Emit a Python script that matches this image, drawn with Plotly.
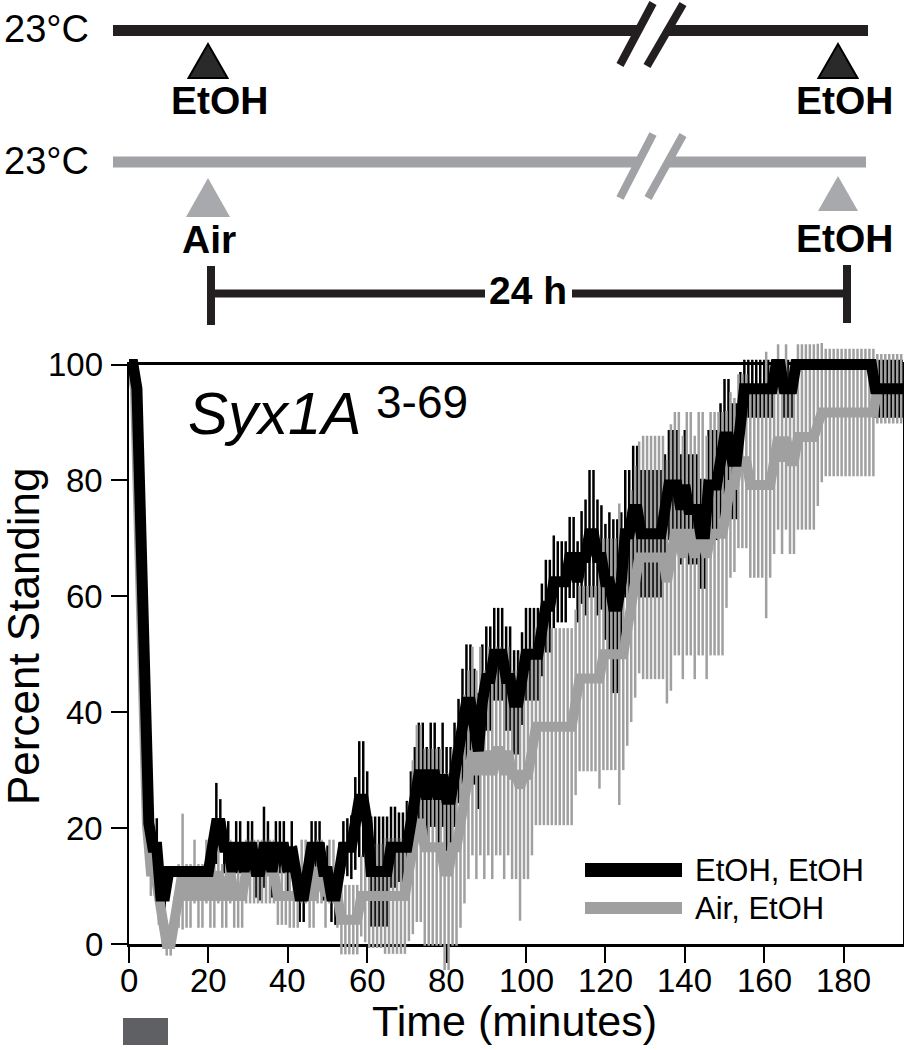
import plotly.graph_objects as go

# ---------------- data ----------------
minutes = list(range(196))          # sampling grid, 1 per minute, 0..195

x_ticks = [0, 20, 40, 60, 80, 100, 120, 140, 160, 180]
y_ticks = [0, 20, 40, 60, 80, 100]

# EtOH, EtOH  (black)
etoh_mean = [
    100, 100, 95.8, 75, 45.8, 20.8, 16.7, 16.7, 8.3, 8.3,
    12.5, 12.5, 12.5, 12.5, 12.5, 12.5, 12.5, 12.5, 12.5, 12.5,
    12.5, 16.7, 20.8, 20.8, 16.7, 16.7, 12.5, 16.7, 16.7, 12.5,
    16.7, 16.7, 12.5, 12.5, 16.7, 16.7, 12.5, 16.7, 16.7, 16.7,
    12.5, 16.7, 12.5, 8.3, 8.3, 12.5, 16.7, 16.7, 16.7, 12.5,
    12.5, 8.3, 8.3, 12.5, 16.7, 16.7, 16.7, 20.8, 25, 25,
    20.8, 12.5, 12.5, 12.5, 12.5, 12.5, 16.7, 16.7, 16.7, 16.7,
    16.7, 20.8, 25, 29.2, 29.2, 25, 29.2, 29.2, 25, 29.2,
    25, 25, 29.2, 33.3, 37.5, 41.7, 41.7, 37.5, 33.3, 41.7,
    45.8, 45.8, 50, 50, 50, 45.8, 45.8, 41.7, 41.7, 45.8,
    50, 50, 50, 50, 54.2, 58.3, 58.3, 62.5, 62.5, 62.5,
    62.5, 66.7, 66.7, 62.5, 66.7, 66.7, 70.8, 70.8, 66.7, 66.7,
    62.5, 62.5, 58.3, 58.3, 62.5, 70.8, 70.8, 75, 75, 70.8,
    70.8, 70.8, 70.8, 70.8, 70.8, 75, 79.2, 79.2, 79.2, 75,
    79.2, 75, 75, 75, 70.8, 70.8, 79.2, 79.2, 79.2, 83.3,
    87.5, 87.5, 83.3, 83.3, 91.7, 95.8, 95.8, 95.8, 95.8, 95.8,
    95.8, 95.8, 95.8, 100, 100, 95.8, 95.8, 95.8, 100, 100,
    100, 100, 100, 100, 100, 100, 100, 100, 100, 100,
    100, 100, 100, 100, 100, 100, 100, 100, 95.8, 95.8,
    95.8, 95.8, 95.8, 95.8, 95.8, 95.8,
]
etoh_err = [
    0, 0, 2, 4, 4, 4.2, 4.2, 5, 5, 4.5,
    0, 0, 0, 0, 0, 0, 0, 0, 0, 0,
    0, 4.2, 7, 4.2, 4.5, 4.5, 4.5, 4.5, 4.5, 4.5,
    4.5, 4.5, 4.5, 5, 7, 4.5, 4.5, 4.5, 4.5, 4.5,
    4.5, 4.5, 4.5, 4.5, 4.5, 4.5, 4.5, 4.5, 4.5, 5,
    4.5, 4.5, 5, 5, 4.5, 5, 5.5, 8, 10, 10,
    9, 9.5, 9.5, 9.5, 9.5, 9.5, 7, 7, 6, 6,
    8, 9, 9, 9, 9, 9, 9, 9, 9, 9,
    9, 9, 9, 9, 10, 10, 10, 10, 10, 10,
    9, 9, 8, 8, 8, 9, 9, 9, 9, 8,
    8, 8, 8, 8, 8, 8, 8, 8, 7, 7,
    7, 7, 7, 7, 8, 10, 11, 11, 10, 9,
    10, 12, 15, 15, 12, 11, 11, 11, 11, 11,
    11, 11, 11, 11, 11, 9.5, 9.5, 9.5, 9.5, 9.5,
    9.5, 9.5, 9.5, 9.5, 9.5, 9.5, 9.5, 9.5, 9.5, 10,
    10, 10, 10, 10, 7, 5, 5, 5, 5, 5,
    5, 5, 5, 0, 0, 5, 5, 5, 0, 0,
    0, 0, 0, 0, 0, 0, 0, 0, 0, 0,
    0, 0, 0, 0, 0, 0, 0, 0, 5, 5,
    5, 5, 5, 5, 5, 5,
]

# Air, EtOH  (gray)
air_mean = [
    100, 95.8, 70.8, 37.5, 20.8, 12.5, 12.5, 8.3, 4.2, 0,
    0, 4.2, 8.3, 12.5, 8.3, 8.3, 12.5, 8.3, 8.3, 12.5,
    8.3, 8.3, 12.5, 8.3, 8.3, 12.5, 8.3, 8.3, 8.3, 12.5,
    12.5, 12.5, 12.5, 12.5, 12.5, 12.5, 12.5, 8.3, 8.3, 8.3,
    8.3, 8.3, 8.3, 12.5, 12.5, 8.3, 8.3, 12.5, 12.5, 8.3,
    12.5, 12.5, 8.3, 4.2, 4.2, 4.2, 4.2, 4.2, 8.3, 8.3,
    8.3, 8.3, 8.3, 8.3, 8.3, 8.3, 8.3, 8.3, 8.3, 8.3,
    12.5, 16.7, 20.8, 20.8, 16.7, 16.7, 16.7, 16.7, 16.7, 12.5,
    12.5, 16.7, 16.7, 20.8, 25, 29.2, 33.3, 29.2, 33.3, 29.2,
    33.3, 29.2, 33.3, 33.3, 29.2, 33.3, 29.2, 29.2, 27, 29.2,
    29.2, 33.3, 37.5, 37.5, 37.5, 37.5, 37.5, 37.5, 37.5, 37.5,
    37.5, 37.5, 41.7, 45.8, 45.8, 45.8, 45.8, 45.8, 45.8, 50,
    50, 50, 50, 50, 50, 54.2, 58.3, 62.5, 66.7, 66.7,
    66.7, 66.7, 66.7, 66.7, 66.7, 62.5, 66.7, 70.8, 70.8, 66.7,
    70.8, 70.8, 66.7, 70.8, 70.8, 66.7, 70.8, 70.8, 70.8, 70.8,
    75, 79.2, 79.2, 83.3, 83.3, 83.3, 79.2, 79.2, 79.2, 79.2,
    79.2, 79.2, 83.3, 87.5, 83.3, 87.5, 83.3, 83.3, 87.5, 87.5,
    87.5, 87.5, 87.5, 89.6, 91.7, 91.7, 91.7, 91.7, 91.7, 91.7,
    91.7, 91.7, 91.7, 91.7, 91.7, 91.7, 91.7, 91.7, 95.8, 95.8,
    95.8, 95.8, 95.8, 95.8, 95.8, 95.8,
]
air_err = [
    0, 2, 4, 4, 4, 4.2, 4.2, 5, 4.2, 2,
    2, 4, 5.5, 10, 5.5, 5.5, 5.5, 5.5, 5.5, 5.5,
    5.5, 5.5, 5.5, 5.5, 5.5, 5.5, 5.5, 5.5, 5.5, 5.5,
    5.5, 5.5, 5.5, 5.5, 5.5, 5.5, 5.5, 5, 5, 5,
    5.5, 5.5, 5.5, 5.5, 5.5, 5.5, 5.5, 5.5, 5.5, 5.5,
    5.5, 5.5, 5.5, 6, 6, 6, 6, 6, 7, 8,
    9, 9, 9, 9, 10, 10, 10, 10, 10, 10,
    12, 15, 17, 17, 17, 17, 17, 17, 17, 17,
    17, 17, 17, 18, 18, 18, 18, 18, 18, 18,
    18, 18, 18, 18, 18, 18, 18, 18, 23, 18,
    18, 18, 17, 17, 17, 17, 17, 17, 17, 17,
    17, 17, 16, 16, 16, 16, 16, 16, 19, 20,
    20, 20, 20, 26, 20, 20, 20, 20, 20, 21,
    21, 21, 21, 21, 21, 21, 23, 21, 21, 21,
    21, 21, 21, 21, 21, 21, 21, 21, 21, 21,
    17, 16, 15, 15, 15, 15, 16, 16, 16, 16,
    23, 16, 16, 16, 16, 16, 16, 16, 16, 16,
    16, 16, 16, 14, 12, 11, 11, 11, 11, 11,
    11, 11, 11, 11, 11, 11, 11, 11, 6, 6,
    6, 6, 6, 6, 6, 6,
]
air_time_offset = 0.5   # the gray samples sit between the black ones
air_minutes = [m + air_time_offset for m in minutes]

for arr in (etoh_mean, etoh_err, air_mean, air_err):
    assert len(arr) == len(minutes), len(arr)

# ---------------- geometry helpers ----------------
W, H = 904, 1050
def px(x):
    return x / W
def py(y):
    return 1 - y / H

FRAME_L, FRAME_R, FRAME_T, FRAME_B = 129, 903, 364.5, 944
PX_PER_MIN = 3.97
PX_PER_PCT = (FRAME_B - FRAME_T) / 100
PAD = 30
x_max = (FRAME_R - FRAME_L) / PX_PER_MIN

FONT = "Liberation Sans, Arial, Helvetica, sans-serif"
BLACK = "#000000"
GRAY = "#a0a0a0"
INK = "#231f20"
GRAY_INK = "#a0a2a5"
TRI_GRAY = "#a7a9ac"

fig = go.Figure()

# invisible trace so the frame subplot exists
fig.add_trace(go.Scatter(x=[], y=[], xaxis="x", yaxis="y", showlegend=False))

common = dict(xaxis="x2", yaxis="y2", showlegend=False, hoverinfo="skip")
fig.add_trace(go.Scatter(x=minutes, y=etoh_mean, mode="lines",
                         line=dict(width=0, color="rgba(0,0,0,0)"),
                         error_y=dict(type="data", array=etoh_err, visible=True,
                                      color=BLACK, thickness=2.5, width=0),
                         **common))
fig.add_trace(go.Scatter(x=air_minutes, y=air_mean, mode="lines",
                         line=dict(width=0, color="rgba(0,0,0,0)"),
                         error_y=dict(type="data", array=air_err, visible=True,
                                      color=GRAY, thickness=2.5, width=0),
                         **common))
fig.add_trace(go.Scatter(x=air_minutes, y=air_mean, mode="lines",
                         line=dict(width=10, color=GRAY), name="Air, EtOH", **common))
fig.add_trace(go.Scatter(x=minutes, y=etoh_mean, mode="lines",
                         line=dict(width=11, color=BLACK), name="EtOH, EtOH", **common))

fig.update_layout(
    width=W, height=H, autosize=False,
    margin=dict(l=0, r=0, t=0, b=0, pad=0, autoexpand=False),
    paper_bgcolor="white", plot_bgcolor="rgba(0,0,0,0)",
    showlegend=False,
    xaxis=dict(domain=[px(FRAME_L), px(FRAME_R)], range=[0, x_max], anchor="y",
               tickvals=x_ticks, ticks="outside", ticklen=16, tickwidth=2,
               tickcolor="black", showline=True, linecolor="black", linewidth=2.5,
               mirror=True, showgrid=False, zeroline=False, showticklabels=False,
               fixedrange=True, automargin=False),
    yaxis=dict(domain=[py(FRAME_B), py(FRAME_T)], range=[0, 100], anchor="x",
               tickvals=y_ticks, ticks="outside", ticklen=16, tickwidth=2,
               tickcolor="black", showline=True, linecolor="black", linewidth=2.5,
               mirror=True, showgrid=False, zeroline=False, showticklabels=False,
               fixedrange=True, automargin=False),
    xaxis2=dict(domain=[px(FRAME_L), px(FRAME_R)], range=[0, x_max], anchor="y2",
                visible=False, fixedrange=True),
    yaxis2=dict(domain=[py(FRAME_B + PAD), py(FRAME_T - PAD)],
                range=[-PAD / PX_PER_PCT, 100 + PAD / PX_PER_PCT], anchor="x2",
                visible=False, fixedrange=True),
)

shapes = []
def hline(x0, x1, y, w, c):
    shapes.append(dict(type="line", xref="paper", yref="paper",
                       x0=px(x0), x1=px(x1), y0=py(y), y1=py(y),
                       line=dict(color=c, width=w)))
def seg(x0, y0, x1, y1, w, c):
    shapes.append(dict(type="line", xref="paper", yref="paper",
                       x0=px(x0), x1=px(x1), y0=py(y0), y1=py(y1),
                       line=dict(color=c, width=w)))
def tri(cx, top, bottom, half, fill, outline, lw):
    path = "M {:.5f},{:.5f} L {:.5f},{:.5f} L {:.5f},{:.5f} Z".format(
        px(cx), py(top), px(cx - half), py(bottom), px(cx + half), py(bottom))
    shapes.append(dict(type="path", xref="paper", yref="paper", path=path,
                       fillcolor=fill, line=dict(color=outline, width=lw)))
def rect(x0, y0, x1, y1, fill):
    shapes.append(dict(type="rect", xref="paper", yref="paper",
                       x0=px(x0), x1=px(x1), y0=py(y1), y1=py(y0),
                       fillcolor=fill, line=dict(width=0)))

# top schematic: EtOH / EtOH
hline(113, 637, 30.5, 11, INK)
hline(667, 868, 30.5, 11, INK)
seg(620, 65, 653, 3, 8, INK)
seg(647, 66, 683, 4, 8, INK)
tri(208, 44, 78, 19.5, "#2a2a2a", BLACK, 2)
tri(838, 44, 78, 19.5, "#2a2a2a", BLACK, 2)
# Air / EtOH
hline(113, 637, 162, 11, GRAY_INK)
hline(667, 866, 162, 11, GRAY_INK)
seg(620, 198, 653, 134, 8, GRAY_INK)
seg(648, 198, 683, 135, 8, GRAY_INK)
tri(208, 178, 217, 22, TRI_GRAY, TRI_GRAY, 0)
tri(838, 176, 211, 20, TRI_GRAY, TRI_GRAY, 0)
# 24 h bracket
seg(211, 266, 211, 325, 8, INK)
seg(847, 265, 847, 323, 8, INK)
hline(211, 485, 293.5, 8, INK)
hline(572, 847, 293.5, 8, INK)
# exposure box under x axis
rect(123, 1018, 168, 1045, "#5f6063")
# legend keys
rect(585, 863, 682, 877, BLACK)
rect(585, 902, 682, 914, GRAY)

fig.update_layout(shapes=shapes)

annotations = []
def text(s, x, y, size, xanchor="center", bold=False, angle=0, color="black",
         xref="paper", yref="paper"):
    annotations.append(dict(text=("<b>%s</b>" % s) if bold else s,
                            x=x if xref != "paper" else px(x),
                            y=y if yref != "paper" else py(y),
                            xref=xref, yref=yref,
                            xanchor=xanchor, yanchor="middle", showarrow=False,
                            textangle=angle,
                            font=dict(family=FONT, size=size, color=color)))

# tick labels placed on the frame axes' own scales
for v in x_ticks:
    text(str(v), v, 980, 33, xref="x")
for v in y_ticks:
    text(str(v), 105, v, 33, xanchor="right", yref="y")

text("23°C", 2, 29, 38, xanchor="left")
text("23°C", 2, 161, 38, xanchor="left")
text("EtOH", 219.5, 100.5, 39, bold=True)
text("EtOH", 844.5, 100.5, 39, bold=True)
text("Air", 209, 239.5, 39, bold=True)
text("EtOH", 844.5, 238, 39, bold=True)
text("24 h", 528, 290, 39, bold=True)
text("<i>Syx1A</i>", 186, 413.5, 60, xanchor="left")
text("3-69", 374, 401.5, 46, xanchor="left")
text("Percent Standing", 23, 636, 44, angle=-90)
text("Time (minutes)", 514, 1021, 43)
text("EtOH, EtOH", 693, 870, 31, xanchor="left")
text("Air, EtOH", 693, 908, 31, xanchor="left")

fig.update_layout(annotations=annotations)

fig.write_html("out.html",
               config={"displayModeBar": False, "staticPlot": True},
               post_script="document.body.style.margin='0';"
                           "document.body.style.overflow='hidden';")
